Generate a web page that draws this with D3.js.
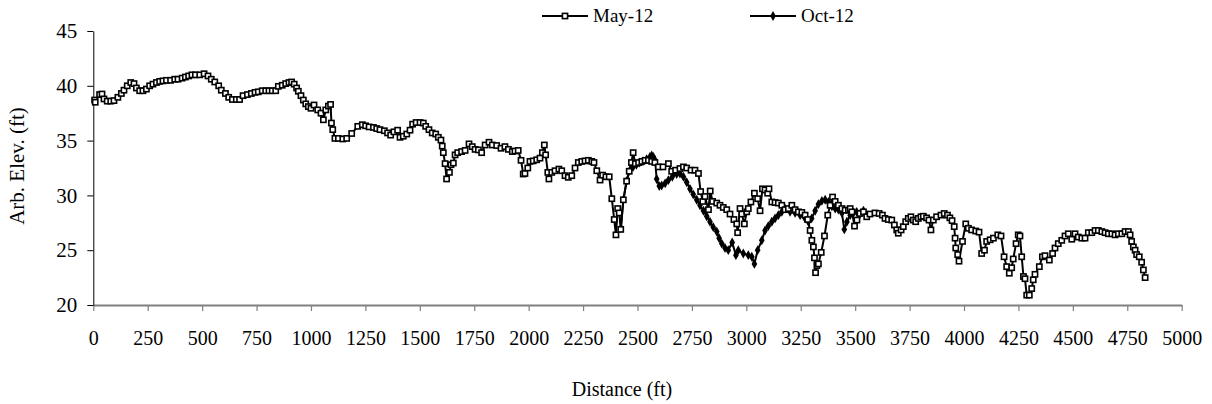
<!DOCTYPE html>
<html>
<head>
<meta charset="utf-8">
<script src="https://cdn.jsdelivr.net/npm/d3@7"></script>
<style>
body { margin: 0; background: #fff; }
text { font-family: "Liberation Serif", "Times New Roman", serif; fill: #000; }
</style>
</head>
<body>
<div id="chart"></div>
<script>
// May-12 survey, distance (ft) and elevation (ft)
var mayDist = [6, 9, 29, 40, 49, 64, 80, 95, 113, 129, 141, 156, 172, 187, 198, 213, 228, 244, 259, 274,
    290, 305, 320, 336, 355, 374, 389, 408, 423, 438, 453, 469, 489, 509, 527, 542, 558, 576, 588, 607,
    622, 639, 657, 672, 688, 708, 726, 743, 758, 776, 792, 807, 822, 838, 850, 868, 884, 899, 911, 923,
    934, 942, 954, 965, 976, 988, 1000, 1014, 1031, 1046, 1057, 1068, 1080, 1090, 1094, 1100, 1110, 1126, 1146, 1164,
    1187, 1215, 1236, 1251, 1267, 1287, 1302, 1317, 1337, 1352, 1366, 1381, 1398, 1409, 1424, 1440, 1455, 1467, 1483, 1501,
    1516, 1527, 1542, 1557, 1573, 1585, 1597, 1603, 1608, 1616, 1623, 1636, 1643, 1654, 1662, 1674, 1692, 1708, 1726, 1741,
    1754, 1769, 1784, 1800, 1818, 1833, 1853, 1873, 1891, 1907, 1925, 1937, 1952, 1965, 1975, 1983, 1996, 2006, 2021, 2037,
    2052, 2063, 2072, 2078, 2088, 2093, 2106, 2121, 2139, 2152, 2167, 2182, 2198, 2213, 2228, 2244, 2259, 2274, 2290, 2300,
    2313, 2328, 2340, 2355, 2370, 2382, 2393, 2401, 2409, 2416, 2423, 2435, 2450, 2462, 2472, 2480, 2490, 2505, 2520, 2535,
    2550, 2565, 2580, 2596, 2617, 2642, 2657, 2675, 2695, 2711, 2726, 2746, 2764, 2780, 2790, 2800, 2810, 2826, 2834, 2845,
    2864, 2879, 2894, 2910, 2925, 2943, 2956, 2960, 2971, 2979, 2991, 3002, 3009, 3021, 3037, 3052, 3063, 3074, 3086, 3098,
    3104, 3117, 3132, 3147, 3163, 3178, 3193, 3209, 3224, 3239, 3255, 3270, 3282, 3293, 3301, 3308, 3313, 3318, 3324, 3331,
    3344, 3359, 3374, 3385, 3396, 3408, 3423, 3439, 3454, 3469, 3477, 3485, 3497, 3508, 3522, 3538, 3553, 3568, 3591, 3610,
    3625, 3637, 3652, 3668, 3680, 3691, 3698, 3711, 3721, 3732, 3744, 3756, 3767, 3778, 3790, 3802, 3813, 3828, 3839, 3848,
    3859, 3874, 3894, 3909, 3924, 3935, 3945, 3955, 3959, 3962, 3971, 3977, 3993, 4008, 4020, 4035, 4054, 4069, 4081, 4094,
    4104, 4120, 4135, 4155, 4170, 4184, 4196, 4208, 4219, 4226, 4239, 4249, 4257, 4265, 4273, 4280, 4288, 4300, 4311, 4318,
    4326, 4346, 4360, 4372, 4392, 4407, 4418, 4433, 4449, 4464, 4479, 4495, 4510, 4525, 4541, 4556, 4571, 4587, 4602, 4617,
    4633, 4648, 4663, 4679, 4694, 4709, 4725, 4740, 4755, 4763, 4770, 4778, 4786, 4793, 4805, 4816, 4824, 4832];
var mayElev = [38.7, 38.5, 39.2, 39.25, 38.8, 38.6, 38.6, 38.65, 38.95, 39.3, 39.6, 40.0, 40.3, 40.2, 39.8, 39.55, 39.55, 39.7, 40.0, 40.15,
    40.3, 40.4, 40.45, 40.5, 40.5, 40.6, 40.6, 40.7, 40.8, 40.9, 41.0, 41.0, 41.0, 41.1, 40.9, 40.6, 40.35, 40.0, 39.6, 39.3,
    38.95, 38.75, 38.75, 38.75, 39.1, 39.2, 39.3, 39.4, 39.45, 39.55, 39.55, 39.55, 39.55, 39.55, 39.95, 40.05, 40.2, 40.3, 40.35, 40.15,
    39.8, 39.5, 39.1, 38.7, 38.35, 38.1, 37.95, 38.25, 37.8, 37.5, 36.9, 37.8, 38.15, 38.3, 36.6, 36.0, 35.2, 35.2, 35.15, 35.2,
    35.65, 36.3, 36.45, 36.35, 36.25, 36.2, 36.1, 36.0, 35.9, 35.7, 35.5, 35.8, 35.95, 35.3, 35.4, 35.6, 35.95, 36.5, 36.65, 36.65,
    36.6, 36.3, 36.0, 35.7, 35.6, 35.3, 35.05, 34.5, 33.9, 32.9, 31.5, 32.1, 32.8, 32.95, 33.7, 33.9, 34.0, 34.1, 34.7, 34.45,
    34.2, 34.15, 33.9, 34.6, 34.85, 34.6, 34.55, 34.3, 34.45, 34.2, 34.0, 34.05, 34.1, 33.2, 31.95, 32.0, 32.5, 33.1, 33.15, 33.25,
    33.4, 33.9, 34.6, 33.7, 32.1, 31.5, 32.1, 32.25, 32.4, 32.25, 31.8, 31.65, 31.8, 32.5, 33.0, 33.1, 33.15, 33.2, 33.1, 33.0,
    32.25, 31.4, 31.85, 31.7, 31.7, 29.7, 27.8, 26.4, 28.8, 28.4, 26.9, 29.6, 31.3, 32.2, 33.0, 33.9, 32.9, 33.0, 33.1, 33.2,
    33.2, 33.1, 33.0, 32.6, 32.6, 32.9, 32.2, 32.3, 32.45, 32.6, 32.5, 32.3, 32.3, 32.0, 30.35, 29.45, 29.9, 28.7, 30.4, 29.45,
    29.3, 29.1, 28.9, 28.7, 28.3, 27.8, 27.4, 26.6, 28.8, 28.3, 27.4, 28.5, 28.8, 29.4, 30.2, 29.7, 28.6, 30.6, 30.5, 30.2,
    30.6, 29.4, 29.35, 29.3, 29.1, 28.7, 28.8, 29.1, 28.7, 28.5, 28.45, 28.2, 27.8, 26.8, 25.9, 25.3, 24.3, 22.95, 23.6, 23.75,
    24.8, 26.3, 28.2, 29.1, 29.85, 29.45, 29.1, 28.8, 28.65, 28.65, 28.8, 28.5, 27.2, 27.75, 28.35, 28.5, 28.05, 28.3, 28.4, 28.35,
    28.2, 27.9, 27.8, 27.75, 27.3, 26.85, 26.55, 26.85, 27.15, 27.6, 27.9, 28.05, 27.75, 27.6, 27.9, 28.05, 28.1, 27.95, 27.75, 26.85,
    27.75, 28.05, 28.2, 28.35, 28.2, 27.95, 27.7, 27.15, 26.1, 25.2, 24.6, 24.0, 25.8, 27.4, 27.0, 26.85, 26.75, 26.65, 24.7, 25.0,
    25.8, 25.95, 26.1, 26.4, 26.3, 24.4, 23.5, 22.9, 23.4, 24.2, 25.6, 26.4, 26.3, 24.4, 22.6, 22.4, 20.9, 20.9, 21.5, 22.3,
    22.8, 23.5, 24.4, 24.5, 24.1, 24.7, 25.2, 25.6, 25.9, 26.3, 26.5, 26.0, 26.5, 26.2, 26.1, 26.1, 26.6, 26.6, 26.8, 26.8,
    26.7, 26.6, 26.5, 26.5, 26.4, 26.5, 26.5, 26.7, 26.7, 26.4, 25.8, 25.3, 25.0, 24.6, 24.4, 23.9, 23.2, 22.5];

// Oct-12 survey
var octDist = [2424, 2435, 2450, 2465, 2480, 2495, 2510, 2525, 2542, 2557, 2565, 2573, 2581, 2588, 2600, 2611, 2627, 2642, 2660, 2680,
    2695, 2711, 2726, 2741, 2756, 2772, 2787, 2803, 2818, 2833, 2848, 2864, 2875, 2887, 2902, 2917, 2935, 2952, 2963, 2986,
    3009, 3025, 3037, 3052, 3071, 3086, 3101, 3117, 3132, 3147, 3163, 3178, 3201, 3224, 3247, 3270, 3285, 3300, 3316, 3331,
    3347, 3362, 3377, 3393, 3408, 3423, 3439, 3450, 3462, 3477, 3492, 3507, 3522, 3538, 3553];
var octElev = [27.0, 29.6, 31.3, 32.3, 32.6, 32.8, 33.0, 33.1, 33.3, 33.5, 33.65, 33.5, 33.2, 31.5, 30.85, 30.9, 31.1, 31.4, 31.7, 31.95,
    32.0, 31.7, 31.2, 30.6, 30.1, 29.6, 29.1, 28.6, 28.1, 27.6, 27.1, 26.7, 26.1, 25.6, 25.2, 25.0, 25.7, 24.55, 25.0, 24.7,
    24.55, 24.4, 23.75, 25.0, 25.9, 26.8, 27.2, 27.6, 27.9, 28.2, 28.5, 28.8, 28.5, 28.4, 28.2, 27.9, 27.6, 27.9, 28.6, 29.2,
    29.5, 29.6, 29.4, 29.0, 28.8, 28.7, 28.4, 26.9, 27.6, 28.2, 28.4, 28.5, 28.3, 28.6, 28.2];

var seriesNames = ['May-12', 'Oct-12'];
var xTicks = [0, 250, 500, 750, 1000, 1250, 1500, 1750, 2000, 2250, 2500, 2750, 3000, 3250, 3500, 3750, 4000, 4250, 4500, 4750, 5000];
var yTicks = [20, 25, 30, 35, 40, 45];

var width = 1212, height = 404;
var margin = { top: 31, right: 30.3, bottom: 99, left: 93.3 };
var plotW = width - margin.left - margin.right,
    plotH = height - margin.top - margin.bottom;

var svg = d3.select('#chart').append('svg')
    .attr('width', width)
    .attr('height', height);
var g = svg.append('g')
    .attr('transform', 'translate(' + margin.left + ',' + margin.top + ')');

var x = d3.scaleLinear().domain([0, 5000]).range([0, plotW]);
var y = d3.scaleLinear().domain([20, 45]).range([plotH, 0]);

// x axis (grey)
var xAxis = g.append('g')
    .attr('transform', 'translate(0,' + plotH + ')')
    .call(d3.axisBottom(x).tickValues(xTicks).tickFormat(d3.format('d'))
        .tickSize(6).tickPadding(20).tickSizeOuter(0));
xAxis.select('.domain').attr('stroke', '#808080').attr('stroke-width', 2);
xAxis.selectAll('.tick line').attr('stroke', '#808080').attr('stroke-width', 1.2);
xAxis.selectAll('.tick text').style('font-size', '20px').attr('fill', '#000');

// y axis
var yAxis = g.append('g')
    .call(d3.axisLeft(y).tickValues(yTicks).tickSize(6).tickPadding(10).tickSizeOuter(0));
yAxis.select('.domain').attr('stroke', '#000').attr('stroke-width', 1);
yAxis.selectAll('.tick line').attr('stroke', '#000');
yAxis.selectAll('.tick text').style('font-size', '21px').attr('fill', '#000');

var may = mayDist.map(function(d, i) { return { x: d, y: mayElev[i] }; });
var oct = octDist.map(function(d, i) { return { x: d, y: octElev[i] }; });

var line = d3.line()
    .x(function(d) { return x(d.x); })
    .y(function(d) { return y(d.y); });

// Oct-12 drawn first, May-12 on top
g.append('path').datum(oct)
    .attr('fill', 'none').attr('stroke', '#000').attr('stroke-width', 2)
    .attr('d', line);
var diamond = d3.symbol().type(d3.symbolDiamond).size(28);
g.selectAll('.oct').data(oct).enter().append('path')
    .attr('class', 'oct')
    .attr('d', diamond)
    .attr('transform', function(d) { return 'translate(' + x(d.x) + ',' + y(d.y) + ')'; })
    .attr('fill', '#000');

g.append('path').datum(may)
    .attr('fill', 'none').attr('stroke', '#000').attr('stroke-width', 2)
    .attr('d', line);
g.selectAll('.may').data(may).enter().append('rect')
    .attr('class', 'may')
    .attr('x', function(d) { return x(d.x) - 2.6; })
    .attr('y', function(d) { return y(d.y) - 2.6; })
    .attr('width', 5.2).attr('height', 5.2)
    .attr('fill', '#fff').attr('stroke', '#000').attr('stroke-width', 1.6);

// legend
var legend = svg.append('g');
var legendX = [542, 750];
seriesNames.forEach(function(name, i) {
    var lx = legendX[i];
    legend.append('line')
        .attr('x1', lx).attr('x2', lx + 46).attr('y1', 16).attr('y2', 16)
        .attr('stroke', '#000').attr('stroke-width', 2);
    if (i == 0) {
        legend.append('rect')
            .attr('x', lx + 23 - 2.6).attr('y', 16 - 2.6).attr('width', 5.2).attr('height', 5.2)
            .attr('fill', '#fff').attr('stroke', '#000').attr('stroke-width', 1.6);
    } else {
        legend.append('path').attr('d', diamond)
            .attr('transform', 'translate(' + (lx + 23) + ',16)').attr('fill', '#000');
    }
    legend.append('text')
        .attr('x', lx + 51).attr('y', 22)
        .style('font-size', '19px')
        .text(name);
});

// axis titles
svg.append('text')
    .attr('transform', 'translate(24,166) rotate(-90)')
    .style('text-anchor', 'middle')
    .style('font-size', '21px')
    .text('Arb. Elev. (ft)');
svg.append('text')
    .attr('x', 622).attr('y', 396)
    .style('text-anchor', 'middle')
    .style('font-size', '20px')
    .text('Distance (ft)');
</script>
</body>
</html>
